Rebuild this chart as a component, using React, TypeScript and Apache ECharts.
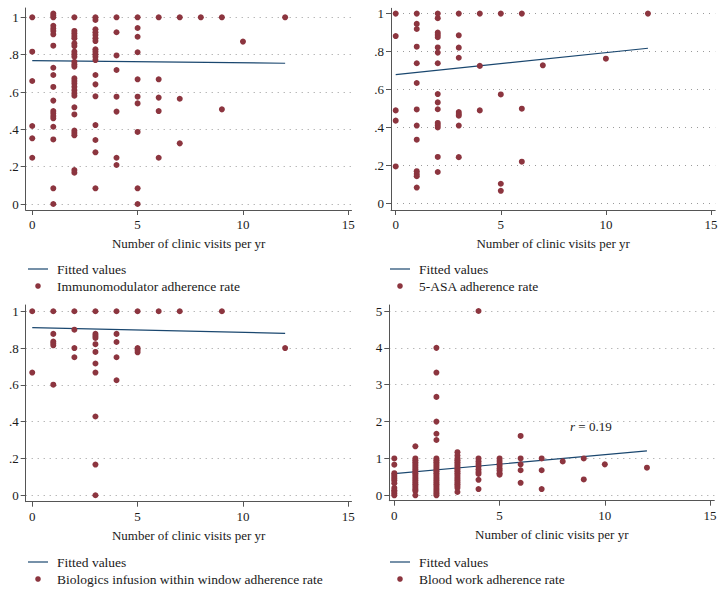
import React, { useEffect, useRef } from 'react';
import * as echarts from 'echarts';

const FONT = "'Liberation Serif', 'Times New Roman', serif";
const DOT = '#8c353f';
const LINE = '#1a476f';

const xTicks = [0, 5, 10, 15];
const rateTicks = [0, 0.2, 0.4, 0.6, 0.8, 1];
const bloodTicks = [0, 1, 2, 3, 4, 5];
const xTitle = 'Number of clinic visits per yr';
const fitName = 'Fitted values';
const seriesNames = [
  'Immunomodulator adherence rate',
  '5-ASA adherence rate',
  'Biologics infusion within window adherence rate',
  'Blood work adherence rate',
];

// [visits per yr, adherence values observed]
const immuno: [number, number[]][] = [
  [0, [1, 0.816, 0.659, 0.418, 0.352, 0.248]],
  [1, [1.02, 1.01, 1.0, 0.955, 0.94, 0.927, 0.909, 0.848, 0.73, 0.691, 0.627, 0.554, 0.498, 0.486, 0.471, 0.459, 0.414, 0.346, 0.084, 0]],
  [2, [1, 0.927, 0.914, 0.9, 0.888, 0.86, 0.846, 0.816, 0.802, 0.789, 0.762, 0.748, 0.736, 0.673, 0.659, 0.645, 0.628, 0.61, 0.593, 0.58, 0.518, 0.48, 0.393, 0.38, 0.368, 0.182, 0.168]],
  [3, [1, 0.986, 0.936, 0.92, 0.905, 0.888, 0.873, 0.829, 0.816, 0.802, 0.789, 0.771, 0.691, 0.641, 0.577, 0.423, 0.343, 0.277, 0.084]],
  [4, [1, 0.92, 0.796, 0.718, 0.575, 0.495, 0.248, 0.209]],
  [5, [1, 0.943, 0.896, 0.813, 0.668, 0.575, 0.539, 0.386, 0.084, 0]],
  [6, [1, 0.668, 0.57, 0.498, 0.248]],
  [7, [1, 0.564, 0.325]],
  [8, [1]],
  [9, [1, 0.507]],
  [10, [0.87]],
  [12, [1]],
];
const immunoFit: [number, number][] = [[0, 0.768], [12, 0.754]];

const asa: [number, number[]][] = [
  [0, [1, 0.882, 0.491, 0.437, 0.196]],
  [1, [1, 0.946, 0.919, 0.826, 0.739, 0.635, 0.496, 0.411, 0.337, 0.171, 0.157, 0.145, 0.085]],
  [2, [1, 0.976, 0.9, 0.888, 0.876, 0.822, 0.795, 0.739, 0.577, 0.533, 0.497, 0.425, 0.413, 0.401, 0.246, 0.167]],
  [3, [1, 0.886, 0.821, 0.768, 0.482, 0.472, 0.463, 0.411, 0.245]],
  [4, [1, 0.725, 0.491]],
  [5, [1, 0.575, 0.105, 0.068]],
  [6, [1, 0.5, 0.221]],
  [7, [0.728]],
  [10, [0.763]],
  [12, [1]],
];
const asaFit: [number, number][] = [[0, 0.679], [12, 0.818]];

const biologics: [number, number[]][] = [
  [0, [1, 0.667]],
  [1, [1, 0.877, 0.835, 0.826, 0.815, 0.601]],
  [2, [1, 0.9, 0.8, 0.75]],
  [3, [1, 0.877, 0.866, 0.855, 0.821, 0.779, 0.716, 0.667, 0.428, 0.167, 0]],
  [4, [1, 0.877, 0.833, 0.75, 0.625]],
  [5, [1, 0.8, 0.79, 0.777]],
  [6, [1]],
  [7, [1]],
  [9, [1]],
  [12, [0.8]],
];
const biologicsFit: [number, number][] = [[0, 0.911], [12, 0.88]];

const blood: [number, number[]][] = [
  [0, [1.0, 0.83, 0.6, 0.55, 0.5, 0.45, 0.4, 0.33, 0.2, 0.14, 0.1, 0.05, 0]],
  [1, [1.33, 1.0, 0.95, 0.9, 0.85, 0.8, 0.75, 0.7, 0.65, 0.6, 0.55, 0.5, 0.45, 0.4, 0.35, 0.3, 0.25, 0.2, 0.15, 0.12, 0]],
  [2, [4, 3.33, 2.67, 2, 1.67, 1.5, 1.0, 0.95, 0.9, 0.85, 0.8, 0.75, 0.7, 0.65, 0.6, 0.55, 0.5, 0.45, 0.4, 0.35, 0.3, 0.25, 0.2, 0.15, 0.1, 0.05, 0]],
  [3, [1.17, 1.08, 1.0, 0.95, 0.9, 0.85, 0.8, 0.75, 0.7, 0.65, 0.6, 0.55, 0.5, 0.45, 0.4, 0.35, 0.3, 0.25, 0.2, 0.09]],
  [4, [5, 1.0, 0.92, 0.85, 0.78, 0.7, 0.63, 0.58, 0.42, 0.17]],
  [5, [1.0, 0.93, 0.86, 0.8, 0.73, 0.67, 0.6, 0.56]],
  [6, [1.61, 1.0, 0.84, 0.68, 0.34]],
  [7, [1.0, 0.68, 0.17]],
  [8, [0.92]],
  [9, [1.0, 0.43]],
  [10, [0.84]],
  [12, [0.75]],
];
const bloodFit: [number, number][] = [[0, 0.586], [12, 1.205]];
const bloodR = 'r';
const bloodRValue = ' = 0.19';

const panelData = [
  { pts: immuno, fit: immunoFit, ticks: rateTicks },
  { pts: asa, fit: asaFit, ticks: rateTicks },
  { pts: biologics, fit: biologicsFit, ticks: rateTicks },
  { pts: blood, fit: bloodFit, ticks: bloodTicks },
];

// layout (pixels / axis extents)
const layout = [
  { grid: { left: 25.7, top: 8, width: 325.8, height: 202 }, x: [-0.31, 15.15], y: [-0.032, 1.05], legend: { left: 28, row1: 269, row2: 286 } },
  { grid: { left: 391, top: 8.3, width: 324.2, height: 201.7 }, x: [-0.224, 15.2], y: [-0.033, 1.028], legend: { left: 390, row1: 269, row2: 286 } },
  { grid: { left: 25.7, top: 305, width: 325.8, height: 196.7 }, x: [-0.31, 15.15], y: [-0.035, 1.034], legend: { left: 28, row1: 562, row2: 579 } },
  { grid: { left: 389.3, top: 305, width: 325, height: 195.7 }, x: [-0.238, 15.2], y: [-0.146, 5.163], legend: { left: 390, row1: 562, row2: 579 } },
];

const axisColor = '#555';
const textColor = '#1a1a1a';

function fmtRate(v: number) {
  if (v === 0) return '0';
  if (v === 1) return '1';
  return String(v).replace(/^0\./, '.');
}

function buildOption() {
  const grid: any[] = [];
  const xAxis: any[] = [];
  const yAxis: any[] = [];
  const series: any[] = [];
  const graphic: any[] = [];
  panelData.forEach((p, i) => {
    const L = layout[i];
    grid.push({ ...L.grid, containLabel: false });
    xAxis.push({
      type: 'value',
      gridIndex: i,
      min: L.x[0],
      max: L.x[1],
      name: xTitle,
      nameLocation: 'middle',
      nameGap: 27,
      nameTextStyle: { fontFamily: FONT, fontSize: 13, color: textColor },
      axisLine: { show: true, onZero: false, lineStyle: { color: axisColor, width: 1 } },
      axisTick: { show: true, length: 5, customValues: xTicks, lineStyle: { color: axisColor } },
      axisLabel: { show: true, customValues: xTicks, margin: 8, fontFamily: FONT, fontSize: 13, color: textColor },
      splitLine: { show: false },
    });
    yAxis.push({
      type: 'value',
      gridIndex: i,
      min: L.y[0],
      max: L.y[1],
      axisLine: { show: true, onZero: false, lineStyle: { color: axisColor, width: 1 } },
      axisTick: { show: true, length: 5, customValues: p.ticks, lineStyle: { color: axisColor } },
      axisLabel: {
        show: true,
        customValues: p.ticks,
        margin: 7,
        fontFamily: FONT,
        fontSize: 13,
        color: textColor,
        formatter: (v: number) => (i === 3 ? String(v) : fmtRate(v)),
      },
      splitLine: { show: true, lineStyle: { color: '#9a9a9a', type: [1, 5], width: 1 } },
    });
    series.push({
      type: 'line',
      name: fitName,
      xAxisIndex: i,
      yAxisIndex: i,
      data: p.fit,
      symbol: 'none',
      showSymbol: false,
      lineStyle: { color: LINE, width: 1.2 },
      itemStyle: { color: LINE },
      silent: true,
      z: 2,
    });
    const pts: [number, number][] = [];
    p.pts.forEach(([x, vals]) => vals.forEach((v) => pts.push([x, v])));
    series.push({
      type: 'scatter',
      name: seriesNames[i],
      xAxisIndex: i,
      yAxisIndex: i,
      data: pts,
      symbol: 'circle',
      symbolSize: 6,
      itemStyle: { color: DOT, opacity: 1 },
      silent: true,
      z: 3,
    });
    // legend key drawn as graphics
    const lg = L.legend;
    graphic.push(
      {
        type: 'line',
        shape: { x1: lg.left, y1: lg.row1, x2: lg.left + 20, y2: lg.row1 },
        style: { stroke: LINE, lineWidth: 1.2 },
        silent: true,
      },
      {
        type: 'circle',
        shape: { cx: lg.left + 10, cy: lg.row2, r: 2.8 },
        style: { fill: DOT },
        silent: true,
      },
      {
        type: 'text',
        x: lg.left + 29,
        y: lg.row1,
        style: { text: fitName, fontFamily: FONT, fontSize: 13.5, fill: textColor, verticalAlign: 'middle' },
        silent: true,
      },
      {
        type: 'text',
        x: lg.left + 29,
        y: lg.row2,
        style: { text: seriesNames[i], fontFamily: FONT, fontSize: 13.5, fill: textColor, verticalAlign: 'middle' },
        silent: true,
      }
    );
  });
  graphic.push({
    type: 'text',
    x: 570,
    y: 426,
    style: {
      text: `{i|${bloodR}}{n|${bloodRValue}}`,
      verticalAlign: 'middle',
      rich: {
        i: { fontFamily: FONT, fontSize: 13, fontStyle: 'italic', fill: textColor },
        n: { fontFamily: FONT, fontSize: 13, fill: textColor },
      },
    },
    silent: true,
  });
  return {
    animation: false,
    backgroundColor: '#ffffff',
    grid,
    xAxis,
    yAxis,
    series,
    graphic,
  };
}

export default function App() {
  const ref = useRef<HTMLDivElement>(null);
  useEffect(() => {
    const chart = echarts.init(ref.current!, null, { renderer: 'svg' });
    chart.setOption(buildOption() as any);
    return () => chart.dispose();
  }, []);
  return (
    <div
      ref={ref}
      style={{ position: 'absolute', left: 0, top: 0, width: 726, height: 591, background: '#fff' }}
    />
  );
}
